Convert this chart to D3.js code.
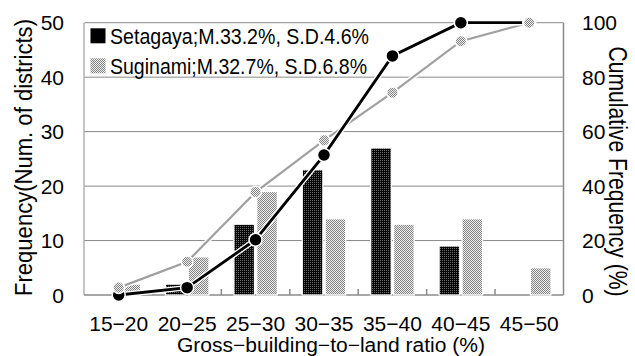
<!DOCTYPE html>
<html>
<head>
<meta charset="utf-8">
<script src="https://cdn.jsdelivr.net/npm/d3@7"></script>
<style>
  html, body { margin: 0; padding: 0; background: #fff; }
  svg { display: block; }
</style>
</head>
<body>
<svg id="chart" width="635" height="356"></svg>
<script>
// Distribution of gross-building-to-land ratio by district
const categories = ["15−20", "20−25", "25−30", "30−35", "35−40", "40−45", "45−50"];
const seriesNames = ["Setagaya", "Suginami"];
const legendLabels = ["Setagaya;M.33.2%, S.D.4.6%", "Suginami;M.32.7%, S.D.6.8%"];
const setagayaCount = [0, 2, 13, 23, 27, 9, 0];
const suginamiCount = [2, 7, 19, 14, 13, 14, 5];
const setagayaCumPct = [0, 2.7, 20.3, 51.4, 87.8, 100, 100];
const suginamiCumPct = [2.7, 12.2, 37.8, 56.8, 74.3, 93.2, 100];
const leftTicks = [0, 10, 20, 30, 40, 50];
const rightTicks = [0, 20, 40, 60, 80, 100];

const svg = d3.select("#chart");
const plot = { left: 84.5, right: 563.5, top: 22.7, bottom: 295 };

// pixel dither fills
const defs = svg.append("defs");
function dither(id, base, dot, both) {
  const p = defs.append("pattern").attr("id", id)
    .attr("patternUnits", "userSpaceOnUse").attr("width", 2).attr("height", 2);
  p.append("rect").attr("width", 2).attr("height", 2).attr("fill", base)
    .attr("shape-rendering", "crispEdges");
  p.append("rect").attr("width", 1).attr("height", 1).attr("fill", dot)
    .attr("shape-rendering", "crispEdges");
  if (both) {
    p.append("rect").attr("x", 1).attr("y", 1).attr("width", 1).attr("height", 1)
      .attr("fill", dot).attr("shape-rendering", "crispEdges");
  }
}
dither("darkFill", "#050505", "#6a6a6a", false);
dither("lightFill", "#ececec", "#858585", true);

const x = d3.scaleBand().domain(categories).range([plot.left, plot.right]).padding(0);
const xs = d3.scaleBand().domain(seriesNames).range([12.5, 56]).paddingInner(0.1);
const y = d3.scaleLinear().domain([0, 50]).range([plot.bottom, plot.top]);
const y2 = d3.scaleLinear().domain([0, 100]).range([plot.bottom, plot.top]);

const grey = "#8a8a8a";

// gridlines
svg.append("g").selectAll("line").data(leftTicks.filter(d => d > 0)).join("line")
  .attr("x1", plot.left).attr("x2", plot.right)
  .attr("y1", d => y(d)).attr("y2", d => y(d))
  .attr("stroke", grey).attr("stroke-width", 1);

// frame: left, right, bottom
svg.append("line").attr("x1", plot.left - 0.5).attr("x2", plot.left - 0.5)
  .attr("y1", plot.top).attr("y2", plot.bottom).attr("stroke", grey);
svg.append("line").attr("x1", plot.right).attr("x2", plot.right)
  .attr("y1", plot.top).attr("y2", plot.bottom).attr("stroke", grey).attr("stroke-width", 1.5);
svg.append("line").attr("x1", plot.left - 0.5).attr("x2", plot.right)
  .attr("y1", plot.bottom).attr("y2", plot.bottom).attr("stroke", grey).attr("stroke-width", 1.5);

// inward ticks between categories
svg.append("g").selectAll("line").data(categories.slice(1)).join("line")
  .attr("x1", d => x(d)).attr("x2", d => x(d))
  .attr("y1", plot.bottom).attr("y2", plot.bottom - 6)
  .attr("stroke", grey).attr("stroke-width", 1.5);

// bars
const barData = [];
categories.forEach((c, i) => {
  barData.push({ c, s: "Setagaya", v: setagayaCount[i] });
  barData.push({ c, s: "Suginami", v: suginamiCount[i] });
});
svg.append("g").selectAll("rect").data(barData.filter(d => d.v > 0)).join("rect")
  .attr("x", d => x(d.c) + xs(d.s))
  .attr("width", xs.bandwidth())
  .attr("y", d => y(d.v))
  .attr("height", d => y(0) - y(d.v))
  .attr("fill", d => d.s === "Setagaya" ? "url(#darkFill)" : "url(#lightFill)")
  .attr("stroke", "#fff").attr("stroke-width", 1.2);

// cumulative lines
const cx = c => x(c) + x.bandwidth() / 2;
const line2 = d3.line().x(d => cx(d.c)).y(d => y2(d.v));
const sugPts = categories.map((c, i) => ({ c, v: suginamiCumPct[i] }));
const setPts = categories.map((c, i) => ({ c, v: setagayaCumPct[i] }));

svg.append("path").datum(sugPts).attr("d", line2).attr("fill", "none")
  .attr("stroke", "#fff").attr("stroke-width", 5);
svg.append("path").datum(sugPts).attr("d", line2).attr("fill", "none")
  .attr("stroke", "#a0a0a0").attr("stroke-width", 2.2);

svg.append("path").datum(setPts).attr("d", line2).attr("fill", "none")
  .attr("stroke", "#fff").attr("stroke-width", 5.5);
svg.append("path").datum(setPts).attr("d", line2).attr("fill", "none")
  .attr("stroke", "#000").attr("stroke-width", 2.8);

svg.append("g").selectAll("circle").data(setPts).join("circle")
  .attr("cx", d => cx(d.c)).attr("cy", d => y2(d.v)).attr("r", 6.5)
  .attr("fill", "#000").attr("stroke", "#fff").attr("stroke-width", 1.5);
svg.append("g").selectAll("circle").data(sugPts).join("circle")
  .attr("cx", d => cx(d.c)).attr("cy", d => y2(d.v)).attr("r", 5.8)
  .attr("fill", "url(#lightFill)").attr("stroke", "#fff").attr("stroke-width", 1.5);

// legend
const lg = svg.append("g");
legendLabels.forEach((t, i) => {
  const ly = 28.3 + i * 30;
  lg.append("rect").attr("x", 90.5).attr("y", ly).attr("width", 15).attr("height", 15)
    .attr("fill", i === 0 ? "#000" : "url(#lightFill)");
  lg.append("text").attr("x", 110).attr("y", ly + 15.5)
    .attr("font-family", "Liberation Sans, Arial, sans-serif").attr("font-size", 22)
    .attr("textLength", i === 0 ? 259 : 257).attr("lengthAdjust", "spacingAndGlyphs")
    .text(t);
});

// tick labels
const numFont = "Liberation Sans, Arial, sans-serif";
svg.append("g").selectAll("text").data(leftTicks).join("text")
  .attr("x", 64).attr("y", d => y(d) + 7.5)
  .attr("text-anchor", "end").attr("font-family", numFont).attr("font-size", 21)
  .text(d => d);
svg.append("g").selectAll("text").data(rightTicks).join("text")
  .attr("x", 582).attr("y", d => y2(d) + 7.5)
  .attr("text-anchor", "start").attr("font-family", numFont).attr("font-size", 21)
  .text(d => d);

svg.append("g").selectAll("text").data(categories).join("text")
  .attr("x", d => cx(d)).attr("y", 330.5)
  .attr("text-anchor", "middle").attr("font-family", numFont).attr("font-size", 21)
  .attr("textLength", 59).attr("lengthAdjust", "spacingAndGlyphs")
  .text(d => d);

// axis titles
svg.append("text").attr("x", 177).attr("y", 351.5)
  .attr("font-family", numFont).attr("font-size", 20)
  .attr("textLength", 308).attr("lengthAdjust", "spacingAndGlyphs")
  .text("Gross−building−to−land ratio (%)");

svg.append("text")
  .attr("transform", "translate(32,296) rotate(-90)")
  .attr("font-family", numFont).attr("font-size", 23)
  .attr("textLength", 277).attr("lengthAdjust", "spacingAndGlyphs")
  .text("Frequency(Num. of districts)");

svg.append("text")
  .attr("transform", "translate(609,46.5) rotate(90)")
  .attr("font-family", numFont).attr("font-size", 25)
  .attr("textLength", 250).attr("lengthAdjust", "spacingAndGlyphs")
  .text("Cumulative Frequency (%)");
</script>
</body>
</html>
